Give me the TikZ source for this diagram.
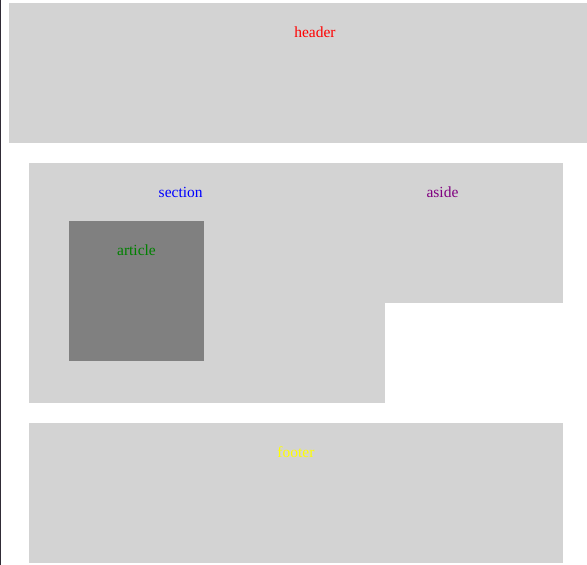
\documentclass[tikz,border=0pt]{standalone}
\usepackage{fontspec}
\setmainfont{Liberation Serif}
\definecolor{boxgray}{HTML}{D3D3D3}
\definecolor{artgray}{HTML}{808080}
\definecolor{edgeline}{HTML}{302B36}
\definecolor{purp}{HTML}{800080}
\definecolor{grn}{HTML}{008000}
\definecolor{ylw}{HTML}{FFFF00}
\begin{document}
\begin{tikzpicture}[x=1pt,y=-1pt,
  region/.style={fill=boxgray,draw=none,inner sep=0pt,outer sep=0pt,anchor=north west},
  lbl/.style={anchor=base,inner sep=0pt,font=\fontsize{15.5pt}{18pt}\selectfont}]
\useasboundingbox (0,0) rectangle (587,565);
\fill[white] (0,0) rectangle (587,565);
\fill[edgeline] (0,0) rectangle (1.3,565);
\node[region,minimum width=578pt,minimum height=140pt] (header) at (9,3) {};
\node[region,minimum width=356pt,minimum height=240pt] (section) at (29,163) {};
\node[region,minimum width=178pt,minimum height=140pt] (aside) at (385,163) {};
\node[region,fill=artgray,minimum width=135pt,minimum height=140pt] (article) at (69,221) {};
\node[region,minimum width=534pt,minimum height=140pt] (footer) at (29,423) {};
\node[lbl,text=red] (headerlbl) at (315,37.3) {header};
\node[lbl,text=blue] (sectionlbl) at (180.7,197.5) {section};
\node[lbl,text=purp] (asidelbl) at (442.5,197.5) {aside};
\node[lbl,text=grn] (articlelbl) at (136.5,255.5) {article};
\node[lbl,text=ylw] (footerlbl) at (296,457.3) {footer};
\end{tikzpicture}
\end{document}
